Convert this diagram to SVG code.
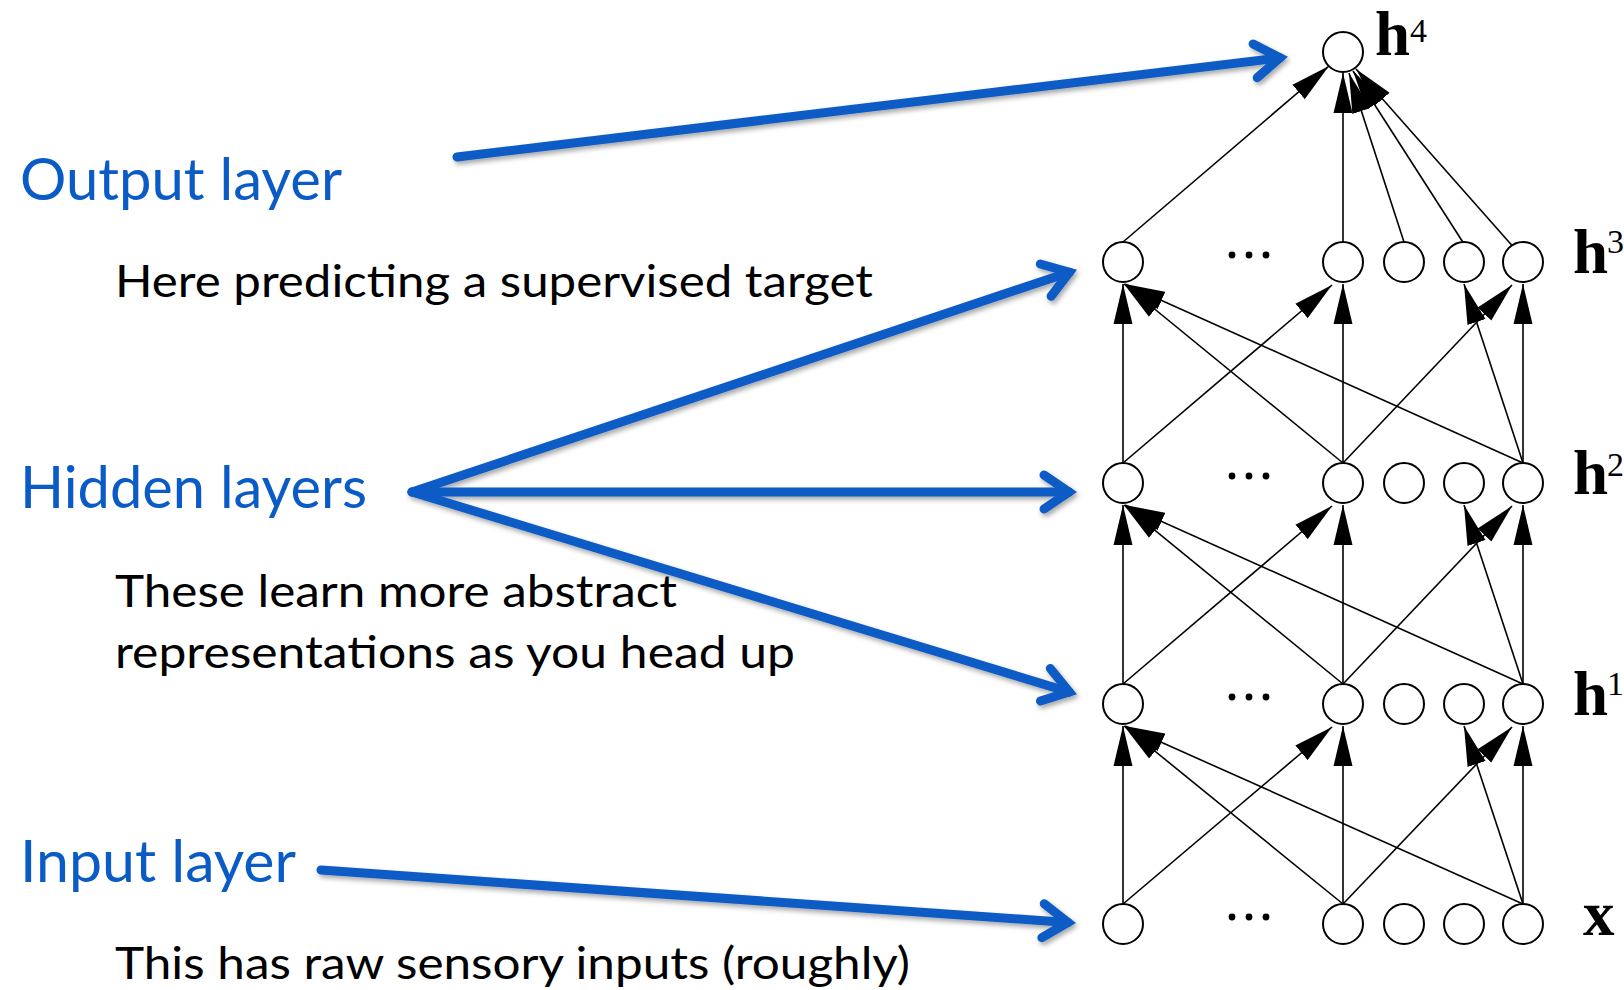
<svg xmlns="http://www.w3.org/2000/svg" width="1624" height="990" viewBox="0 0 1624 990">
<style>
.node{fill:#fff;stroke:#000;stroke-width:2}
.dot{fill:#000}
.edge{stroke:#000;stroke-width:1.6;fill:none;marker-end:url(#ah)}
.blue{stroke:#0B5BC6;stroke-width:9;fill:none;stroke-linecap:round;marker-end:url(#chev)}
.lab{font-family:"Lato","Liberation Sans",sans-serif;fill:#0B5BC6;font-size:59px}
.desc{font-family:"Lato","Liberation Sans",sans-serif;fill:#000;font-size:45px}
.hl{font-family:"Liberation Serif","Times New Roman",serif;font-weight:bold;font-size:63px;fill:#000}
.sup{font-family:"Liberation Serif","Times New Roman",serif;font-size:34px;fill:#000}
</style>
<defs>
<marker id="ah" markerUnits="userSpaceOnUse" markerWidth="40" markerHeight="20" viewBox="0 0 38 18" refX="38" refY="9" orient="auto"><path d="M0,0 L38,9 L0,18 z" fill="#000"/></marker>
<marker id="chev" markerUnits="userSpaceOnUse" markerWidth="1" markerHeight="1" refX="0" refY="0" orient="auto" overflow="visible"><path d="M-25,-17 L0,0 L-25,17" fill="none" stroke="#0B5BC6" stroke-width="9" stroke-linecap="round" stroke-linejoin="miter"/></marker>
<filter id="sh" x="-10%" y="-20%" width="120%" height="140%"><feDropShadow dx="2" dy="3" stdDeviation="2.5" flood-color="#000" flood-opacity="0.35"/></filter>
</defs>
<rect width="1624" height="990" fill="#fff"/>

<g id="connectors">
<line class="edge" x1="1123" y1="242" x2="1329" y2="66"/>
<line class="edge" x1="1343" y1="242" x2="1343" y2="73"/>
<line class="edge" x1="1404" y1="242" x2="1349" y2="73"/>
<line class="edge" x1="1466" y1="247" x2="1353" y2="71"/>
<line class="edge" x1="1516" y1="250" x2="1356" y2="69"/>
<line class="edge" x1="1123" y1="463" x2="1123" y2="284"/>
<line class="edge" x1="1123" y1="463" x2="1332" y2="285"/>
<line class="edge" x1="1343" y1="463" x2="1124" y2="284"/>
<line class="edge" x1="1343" y1="463" x2="1343" y2="284"/>
<line class="edge" x1="1343" y1="463" x2="1512" y2="285"/>
<line class="edge" x1="1523" y1="463" x2="1125" y2="284"/>
<line class="edge" x1="1523" y1="463" x2="1464" y2="284"/>
<line class="edge" x1="1523" y1="463" x2="1523" y2="284"/>
<line class="edge" x1="1123" y1="684" x2="1123" y2="505"/>
<line class="edge" x1="1123" y1="684" x2="1332" y2="506"/>
<line class="edge" x1="1343" y1="684" x2="1124" y2="505"/>
<line class="edge" x1="1343" y1="684" x2="1343" y2="505"/>
<line class="edge" x1="1343" y1="684" x2="1512" y2="506"/>
<line class="edge" x1="1523" y1="684" x2="1125" y2="505"/>
<line class="edge" x1="1523" y1="684" x2="1464" y2="505"/>
<line class="edge" x1="1523" y1="684" x2="1523" y2="505"/>
<line class="edge" x1="1123" y1="904" x2="1123" y2="726"/>
<line class="edge" x1="1123" y1="904" x2="1332" y2="727"/>
<line class="edge" x1="1343" y1="904" x2="1124" y2="726"/>
<line class="edge" x1="1343" y1="904" x2="1343" y2="726"/>
<line class="edge" x1="1343" y1="904" x2="1512" y2="727"/>
<line class="edge" x1="1523" y1="904" x2="1125" y2="726"/>
<line class="edge" x1="1523" y1="904" x2="1464" y2="726"/>
<line class="edge" x1="1523" y1="904" x2="1523" y2="726"/>
<g filter="url(#sh)">
<line class="blue" x1="457" y1="157" x2="1280" y2="57.8"/>
<line class="blue" x1="412" y1="492" x2="1069.4" y2="272.2"/>
<line class="blue" x1="412" y1="492" x2="1069" y2="492"/>
<line class="blue" x1="412" y1="492" x2="1069.3" y2="692"/>
<line class="blue" x1="321" y1="870" x2="1068" y2="922.5"/>
</g>
</g>

<g id="h4">
<circle class="node" cx="1343" cy="52" r="20"/>
<text class="hl" x="1375" y="55">h</text><text class="sup" x="1410" y="42">4</text>
</g>
<g id="h3">
<circle class="node" cx="1123" cy="262" r="20"/>
<circle class="dot" cx="1232" cy="255" r="3.4"/><circle class="dot" cx="1249" cy="255" r="3.4"/><circle class="dot" cx="1266" cy="255" r="3.4"/>
<circle class="node" cx="1343" cy="262" r="20"/>
<circle class="node" cx="1404" cy="262" r="20"/>
<circle class="node" cx="1464" cy="262" r="20"/>
<circle class="node" cx="1523" cy="262" r="20"/>
<text class="hl" x="1573" y="273">h</text><text class="sup" x="1607" y="253">3</text>
</g>
<g id="h2">
<circle class="node" cx="1123" cy="483" r="20"/>
<circle class="dot" cx="1232" cy="476" r="3.4"/><circle class="dot" cx="1249" cy="476" r="3.4"/><circle class="dot" cx="1266" cy="476" r="3.4"/>
<circle class="node" cx="1343" cy="483" r="20"/>
<circle class="node" cx="1404" cy="483" r="20"/>
<circle class="node" cx="1464" cy="483" r="20"/>
<circle class="node" cx="1523" cy="483" r="20"/>
<text class="hl" x="1573" y="494">h</text><text class="sup" x="1607" y="476">2</text>
</g>
<g id="h1">
<circle class="node" cx="1123" cy="704" r="20"/>
<circle class="dot" cx="1232" cy="697" r="3.4"/><circle class="dot" cx="1249" cy="697" r="3.4"/><circle class="dot" cx="1266" cy="697" r="3.4"/>
<circle class="node" cx="1343" cy="704" r="20"/>
<circle class="node" cx="1404" cy="704" r="20"/>
<circle class="node" cx="1464" cy="704" r="20"/>
<circle class="node" cx="1523" cy="704" r="20"/>
<text class="hl" x="1573" y="715">h</text><text class="sup" x="1607" y="695">1</text>
</g>
<g id="x">
<circle class="node" cx="1123" cy="924" r="20"/>
<circle class="dot" cx="1232" cy="917" r="3.4"/><circle class="dot" cx="1249" cy="917" r="3.4"/><circle class="dot" cx="1266" cy="917" r="3.4"/>
<circle class="node" cx="1343" cy="924" r="20"/>
<circle class="node" cx="1404" cy="924" r="20"/>
<circle class="node" cx="1464" cy="924" r="20"/>
<circle class="node" cx="1523" cy="924" r="20"/>
<text class="hl" x="1583" y="935">x</text>
</g>

<g id="labels">
<text class="lab" x="20" y="200" textLength="322" lengthAdjust="spacingAndGlyphs">Output layer</text>
<text class="desc" x="115" y="297" textLength="758" lengthAdjust="spacingAndGlyphs">Here predicting a supervised target</text>
<text class="lab" x="20" y="508" textLength="347" lengthAdjust="spacingAndGlyphs">Hidden layers</text>
<text class="desc" x="115" y="607" textLength="562" lengthAdjust="spacingAndGlyphs">These learn more abstract</text>
<text class="desc" x="115" y="668" textLength="680" lengthAdjust="spacingAndGlyphs">representations as you head up</text>
<text class="lab" x="20" y="882" textLength="276" lengthAdjust="spacingAndGlyphs">Input layer</text>
<text class="desc" x="115" y="979" textLength="795" lengthAdjust="spacingAndGlyphs">This has raw sensory inputs (roughly)</text>
</g>
</svg>
